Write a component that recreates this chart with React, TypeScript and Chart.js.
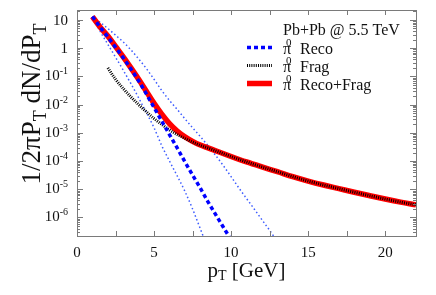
import React, { useEffect, useRef } from "react";
import { Chart, registerables } from "chart.js";

Chart.register(...registerables);

// ---------- data ----------
const recoX = [1, 1.5, 2, 2.5, 3, 3.5, 4, 4.5, 5, 5.5, 6, 6.5, 7, 7.5, 8, 8.5, 9, 9.5, 10];
const recoY = [13.2, 5.6, 2.5, 1.07, 0.457, 0.182, 0.0692, 0.024, 7.9e-3, 2.6e-3, 8.7e-4, 2.9e-4, 9.5e-5, 3.2e-5, 1.1e-5, 3.6e-6, 1.26e-6, 4.5e-7, 1.6e-7];

const fragX = [2, 2.5, 3, 3.5, 4, 4.5, 5, 5.5, 6, 6.5, 7, 7.5, 8, 8.5, 9, 10, 11, 12, 13, 14, 15, 16, 17, 18, 19, 20, 21, 22];
const fragY = [0.2, 0.079, 0.037, 0.0186, 0.01, 5.6e-3, 3.2e-3, 2.0e-3, 1.26e-3, 8.7e-4, 6.3e-4, 4.7e-4, 3.6e-4, 2.9e-4, 2.3e-4, 1.45e-4, 9.3e-5, 6.2e-5, 4.2e-5, 2.8e-5, 1.95e-5, 1.41e-5, 1.05e-5, 7.8e-6, 5.9e-6, 4.5e-6, 3.5e-6, 2.8e-6];

const sumX = [1, 1.5, 2, 2.5, 3, 3.5, 4, 4.5, 5, 5.5, 6, 6.5, 7, 7.5, 8, 8.5, 9, 10, 11, 12, 13, 14, 15, 16, 17, 18, 19, 20, 21, 22];
const sumY = [13.2, 5.6, 2.7, 1.15, 0.494, 0.201, 0.0792, 0.0296, 0.0111, 4.6e-3, 2.13e-3, 1.16e-3, 7.25e-4, 5.0e-4, 3.7e-4, 2.94e-4, 2.31e-4, 1.45e-4, 9.3e-5, 6.2e-5, 4.2e-5, 2.8e-5, 1.95e-5, 1.41e-5, 1.05e-5, 7.8e-6, 5.9e-6, 4.5e-6, 3.5e-6, 2.8e-6];

const upperX = [1, 1.5, 2, 2.5, 3, 3.5, 4, 4.5, 5, 5.5, 6, 6.5, 7, 7.5, 8, 8.5, 9, 9.5, 10, 10.5, 11, 11.5, 12, 12.5, 13];
const upperY = [13.2, 8.3, 5.0, 2.9, 1.66, 0.87, 0.417, 0.19, 0.079, 0.0316, 0.0141, 6.8e-3, 3.16e-3, 1.51e-3, 7.4e-4, 3.5e-4, 1.58e-4, 6.8e-5, 2.8e-5, 1.12e-5, 4.7e-6, 2.0e-6, 8.3e-7, 3.5e-7, 1.4e-7];

const lowerX = [1, 1.5, 2, 2.5, 3, 3.5, 4, 4.5, 5, 5.5, 6, 6.5, 7, 7.5, 8, 8.5];
const lowerY = [13.2, 4.0, 1.38, 0.48, 0.166, 0.055, 0.0174, 5.2e-3, 1.51e-3, 3.5e-4, 1.0e-4, 3.0e-5, 8.5e-6, 2.0e-6, 4.0e-7, 7.9e-8];

const xTickValues = [0, 5, 10, 15, 20];
const xMinorTickValues = [2.5, 7.5, 12.5, 17.5];
const yTickExponents = [1, 0, -1, -2, -3, -4, -5, -6];

const legendTitle = "Pb+Pb @ 5.5 TeV";
const seriesNames = ["Reco", "Frag", "Reco+Frag"];

const FONT = '"Liberation Serif", "DejaVu Serif", serif';

type Seg = { t: string; size: number; dy?: number };

function richWidth(ctx: CanvasRenderingContext2D, segs: Seg[]) {
  let w = 0;
  for (const s of segs) {
    ctx.font = `${s.size}px ${FONT}`;
    w += ctx.measureText(s.t).width;
  }
  return w;
}

function drawRich(ctx: CanvasRenderingContext2D, segs: Seg[], x: number, y: number) {
  let cx = x;
  for (const s of segs) {
    ctx.font = `${s.size}px ${FONT}`;
    ctx.fillText(s.t, cx, y + (s.dy || 0));
    cx += ctx.measureText(s.t).width;
  }
}

const decor = {
  id: "decor",
  afterDraw(chart: any) {
    const ctx: CanvasRenderingContext2D = chart.ctx;
    const { left, right, top, bottom } = chart.chartArea;
    const xs = chart.scales.x;
    const ys = chart.scales.y;
    ctx.save();
    // frame
    ctx.strokeStyle = "#7a7a7a";
    ctx.lineWidth = 1;
    ctx.strokeRect(Math.round(left) + 0.5, Math.round(top) + 0.5, Math.round(right - left), Math.round(bottom - top));
    // x ticks
    ctx.beginPath();
    for (const v of [...xTickValues, ...xMinorTickValues]) {
      const px = Math.round(xs.getPixelForValue(v)) + 0.5;
      const len = 5;
      ctx.moveTo(px, bottom);
      ctx.lineTo(px, bottom - len);
      ctx.moveTo(px, top);
      ctx.lineTo(px, top + len);
    }
    // y ticks
    for (let e = -7; e <= 1; e++) {
      for (let m = 1; m <= 9; m++) {
        const v = m * Math.pow(10, e);
        if (v < ys.min || v > ys.max) continue;
        const py = Math.round(ys.getPixelForValue(v)) + 0.5;
        const len = m === 1 ? 6 : 3;
        ctx.moveTo(left, py);
        ctx.lineTo(left + len, py);
        ctx.moveTo(right, py);
        ctx.lineTo(right - len, py);
      }
    }
    ctx.stroke();

    // y tick labels
    ctx.fillStyle = "#111";
    ctx.textBaseline = "alphabetic";
    const lx = left - 9;
    for (const e of yTickExponents) {
      const py = ys.getPixelForValue(Math.pow(10, e));
      if (e === 0) {
        ctx.font = `15px ${FONT}`;
        ctx.textAlign = "right";
        ctx.fillText("1", lx, py + 5);
      } else if (e === 1) {
        ctx.font = `15px ${FONT}`;
        ctx.textAlign = "right";
        ctx.fillText("10", lx, py + 5);
      } else {
        ctx.textAlign = "right";
        ctx.font = `10px ${FONT}`;
        const ex = String(e);
        const ew = ctx.measureText(ex).width;
        ctx.fillText(ex, lx, py - 2);
        ctx.font = `15px ${FONT}`;
        ctx.fillText("10", lx - ew, py + 4);
      }
    }

    // y title
    ctx.textAlign = "left";
    const ySegs: Seg[] = [
      { t: "1/2πP", size: 27 },
      { t: "T", size: 18, dy: 6 },
      { t: " dN/dP", size: 27 },
      { t: "T", size: 18, dy: 6 },
    ];
    const yw = richWidth(ctx, ySegs);
    ctx.save();
    ctx.translate(40, 104);
    ctx.rotate(-Math.PI / 2);
    drawRich(ctx, ySegs, -yw / 2, 0);
    ctx.restore();

    // x title
    const xSegs: Seg[] = [
      { t: "p", size: 21 },
      { t: "T", size: 14, dy: 3 },
      { t: " [GeV]", size: 21 },
    ];
    const xw = richWidth(ctx, xSegs);
    drawRich(ctx, xSegs, (left + right) / 2 - xw / 2, 277);

    // legend
    ctx.font = `16px ${FONT}`;
    ctx.fillText(legendTitle, 283, 35);
    const ds = chart.data.datasets;
    for (let i = 0; i < seriesNames.length; i++) {
      const d = ds[i];
      const ly = 47.5 + i * 18;
      ctx.save();
      ctx.beginPath();
      ctx.strokeStyle = d.borderColor;
      ctx.lineWidth = d.borderWidth;
      ctx.setLineDash(d.borderDash || []);
      ctx.moveTo(247, ly);
      ctx.lineTo(272, ly);
      ctx.stroke();
      ctx.restore();
      ctx.font = `16px ${FONT}`;
      ctx.fillText("π", 283, ly + 6);
      ctx.font = `11px ${FONT}`;
      ctx.fillText("0", 286, ly - 2);
      ctx.font = `16px ${FONT}`;
      ctx.fillText(seriesNames[i], 300, ly + 6);
    }
    ctx.restore();
  },
};

function pts(xs: number[], ys: number[]) {
  return xs.map((x, i) => ({ x, y: ys[i] }));
}

export default function App() {
  const ref = useRef<HTMLCanvasElement | null>(null);
  useEffect(() => {
    if (!ref.current) return;
    const common = { pointRadius: 0, fill: false, clip: 0, cubicInterpolationMode: "monotone" as const };
    const chart = new Chart(ref.current, {
      type: "line",
      data: {
        datasets: [
          { ...common, label: "π0 " + seriesNames[0], data: pts(recoX, recoY), borderColor: "#0000ff", borderWidth: 3.5, borderDash: [4, 3] },
          { ...common, label: "π0 " + seriesNames[1], data: pts(fragX, fragY), borderColor: "#000000", borderWidth: 3, borderDash: [1, 1.2] },
          { ...common, label: "π0 " + seriesNames[2], data: pts(sumX, sumY), borderColor: "#ff0000", borderWidth: 5.5 },
          { ...common, label: "upper", data: pts(upperX, upperY), borderColor: "#3d5cff", borderWidth: 1.5, borderDash: [1.5, 2.5] },
          { ...common, label: "lower", data: pts(lowerX, lowerY), borderColor: "#3d5cff", borderWidth: 1.5, borderDash: [1.5, 2.5] },
        ],
      } as any,
      options: {
        animation: false,
        responsive: true,
        maintainAspectRatio: false,
        layout: { padding: { top: 10, right: 20, left: 0, bottom: 0 } },
        plugins: { legend: { display: false }, tooltip: { enabled: false } },
        scales: {
          x: {
            type: "linear",
            min: 0,
            max: 22,
            grid: { display: false, drawTicks: false },
            border: { display: false },
            ticks: { font: { family: FONT, size: 15 }, color: "#111", padding: 8, maxRotation: 0 },
            afterBuildTicks: (s: any) => {
              s.ticks = xTickValues.map((v) => ({ value: v }));
            },
            afterFit: (s: any) => {
              s.height = 59;
            },
          },
          y: {
            type: "logarithmic",
            min: 2.2e-7,
            max: 22.6,
            grid: { display: false, drawTicks: false },
            border: { display: false },
            ticks: { display: false },
            afterBuildTicks: (s: any) => {
              s.ticks = yTickExponents.map((e) => ({ value: Math.pow(10, e) }));
            },
            afterFit: (s: any) => {
              s.width = 77;
            },
          },
        },
      } as any,
      plugins: [decor],
    });
    return () => chart.destroy();
  }, []);
  return (
    <div style={{ position: "fixed", left: 0, top: 0, width: 436, height: 295, background: "#fff" }}>
      <canvas ref={ref} />
    </div>
  );
}
